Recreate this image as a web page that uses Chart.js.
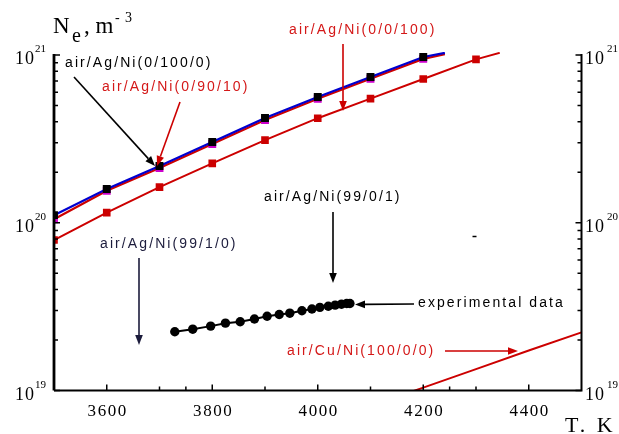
<!DOCTYPE html>
<html>
<head>
<meta charset="utf-8">
<script src="https://cdn.jsdelivr.net/npm/chart.js@4.4.0/dist/chart.umd.min.js"></script>
<style>
html, body { margin: 0; padding: 0; background: #fff; }
#wrap { width: 619px; height: 434px; }
</style>
</head>
<body>
<div id="wrap"><canvas id="myChart" width="619" height="434"></canvas></div>
<script>
// model curves, electron density (m^-3) vs temperature (K)
let modelT = [3500, 3600, 3700, 3800, 3900, 4000, 4100, 4200, 4241];
let ne_0_100_0 = [1.11e20, 1.59e20, 2.18e20, 3.03e20, 4.21e20, 5.62e20, 7.40e20, 9.73e20, 1.03e21];
let ne_0_90_10 = [1.05e20, 1.55e20, 2.12e20, 2.95e20, 4.10e20, 5.48e20, 7.21e20, 9.48e20, 1.01e21];

let modelT2 = [3500, 3600, 3700, 3800, 3900, 4000, 4100, 4200, 4300, 4345];
let ne_0_0_100 = [7.89e19, 1.15e20, 1.63e20, 2.26e20, 3.11e20, 4.20e20, 5.49e20, 7.19e20, 9.42e20, 1.03e21];

let cuT = [4100, 4200, 4300, 4400, 4500];
let ne_cu = [8.1e18, 1.04e19, 1.34e19, 1.73e19, 2.22e19];

// measured points
let expT = [3729, 3763, 3797, 3825, 3853, 3880, 3904, 3927, 3947, 3970, 3989, 4004, 4020, 4033, 4045, 4055, 4061];
let expNe = [2.24e19, 2.32e19, 2.42e19, 2.52e19, 2.57e19, 2.67e19, 2.77e19, 2.84e19, 2.89e19, 2.99e19, 3.06e19, 3.13e19, 3.18e19, 3.23e19, 3.27e19, 3.30e19, 3.30e19];

// axis ticks
let xMajor = [3600, 3800, 4000, 4200, 4400];
let xMinor = [3700, 3750, 3900, 4100, 4250, 4300];
let yMajor = [1e19, 1e20, 1e21];
let yMinor = [2e19, 3e19, 4e19, 5e19, 6e19, 7e19, 8e19, 9e19, 2e20, 3e20, 4e20, 5e20, 6e20, 7e20, 8e20, 9e20];

const RED = '#cc0000';
const TEXT_RED = '#d41818';

function pts(xs, ys) {
    return xs.map((x, i) => ({x: x, y: ys[i]}));
}
// markers on every point except the curve end at the top edge
function marks(xs, r) {
    return xs.map((x, i) => (x % 100 === 0 ? r : 0));
}

// label + arrow layer, pixel positions
let notes = [
    {text: 'air/Ag/Ni(0/100/0)', x: 65, y: 63, color: '#000'},
    {text: 'air/Ag/Ni(0/90/10)', x: 102, y: 87, color: TEXT_RED},
    {text: 'air/Ag/Ni(0/0/100)', x: 289, y: 30, color: TEXT_RED},
    {text: 'air/Ag/Ni(99/0/1)', x: 264, y: 197, color: '#000'},
    {text: 'air/Ag/Ni(99/1/0)', x: 100, y: 244, color: '#1c1c3c'},
    {text: 'experimental data', x: 418, y: 303, color: '#000'},
    {text: 'air/Cu/Ni(100/0/0)', x: 287, y: 351, color: TEXT_RED}
];
let arrows = [
    {x1: 74, y1: 77, x2: 155, y2: 166, color: '#000'},
    {x1: 180, y1: 102, x2: 157, y2: 166, color: RED},
    {x1: 343, y1: 44, x2: 343, y2: 111, color: RED},
    {x1: 333, y1: 212, x2: 333, y2: 283, color: '#000'},
    {x1: 139, y1: 258, x2: 139, y2: 345, color: '#1c1c3c'},
    {x1: 414, y1: 304, x2: 355, y2: 304.5, color: '#000'},
    {x1: 445, y1: 351, x2: 518, y2: 351, color: RED}
];

function arrow(ctx, a) {
    let ang = Math.atan2(a.y2 - a.y1, a.x2 - a.x1);
    let len = 10, half = 3.8;
    let bx = a.x2 - len * Math.cos(ang), by = a.y2 - len * Math.sin(ang);
    ctx.strokeStyle = a.color;
    ctx.fillStyle = a.color;
    ctx.lineWidth = 1.6;
    ctx.beginPath();
    ctx.moveTo(a.x1, a.y1);
    ctx.lineTo(bx, by);
    ctx.stroke();
    ctx.beginPath();
    ctx.moveTo(a.x2, a.y2);
    ctx.lineTo(bx + half * Math.sin(ang), by - half * Math.cos(ang));
    ctx.lineTo(bx - half * Math.sin(ang), by + half * Math.cos(ang));
    ctx.closePath();
    ctx.fill();
}

let frame = {
    id: 'frame',
    afterDraw(chart) {
        let ctx = chart.ctx;
        let xs = chart.scales.x, ys = chart.scales.y;
        let a = chart.chartArea;
        ctx.save();
        ctx.strokeStyle = '#000';
        ctx.fillStyle = '#000';

        // spines, no top border
        ctx.lineWidth = 2.8;
        ctx.beginPath();
        ctx.moveTo(a.left, a.top - 1);
        ctx.lineTo(a.left, a.bottom);
        ctx.stroke();
        ctx.lineWidth = 2;
        ctx.beginPath();
        ctx.moveTo(a.left, a.bottom);
        ctx.lineTo(a.right, a.bottom);
        ctx.moveTo(a.right, a.top - 1);
        ctx.lineTo(a.right, a.bottom + 1);
        ctx.stroke();

        // inward ticks
        ctx.lineWidth = 1.5;
        ctx.beginPath();
        xMajor.concat(xMinor).forEach(v => {
            let px = xs.getPixelForValue(v);
            let l = xMajor.includes(v) ? 6 : 4;
            ctx.moveTo(px, a.bottom);
            ctx.lineTo(px, a.bottom - l);
        });
        yMajor.concat(yMinor).forEach(v => {
            let py = ys.getPixelForValue(v);
            let l = yMajor.includes(v) ? 6 : 4;
            ctx.moveTo(a.left, py);
            ctx.lineTo(a.left + l, py);
            ctx.moveTo(a.right, py);
            ctx.lineTo(a.right - l, py);
        });
        ctx.stroke();

        // y tick labels 10^n on both sides
        ctx.textBaseline = 'alphabetic';
        ctx.textAlign = 'left';
        yMajor.forEach(v => {
            let py = ys.getPixelForValue(v);
            let e = String(Math.round(Math.log10(v)));
            ctx.font = '18px "Liberation Serif"';
            ctx.letterSpacing = '1px';
            ctx.fillText('10', 15, py + 9);
            ctx.fillText('10', 585, py + 9);
            ctx.font = '11px "Liberation Serif"';
            ctx.letterSpacing = '0px';
            ctx.fillText(e, 35, py - 3);
            ctx.fillText(e, 607, py - 3);
        });

        // x tick labels
        ctx.font = '17px "Liberation Serif"';
        ctx.letterSpacing = '1.6px';
        ctx.textAlign = 'center';
        xMajor.forEach(v => {
            ctx.fillText(String(v), xs.getPixelForValue(v) + 1, 416);
        });

        // axis titles
        ctx.textAlign = 'left';
        ctx.letterSpacing = '0px';
        ctx.font = '23px "Liberation Serif"';
        ctx.fillText('N', 53, 33);
        ctx.fillText(', m', 84, 33);
        ctx.font = '20px "Liberation Serif"';
        ctx.fillText('e', 72, 42);
        ctx.font = '14px "Liberation Serif"';
        ctx.fillText('-', 115, 22);
        ctx.fillText('3', 125, 22);
        ctx.font = '22px "Liberation Serif"';
        ctx.letterSpacing = '3px';
        ctx.fillText('T. K', 565, 432);

        // annotations
        ctx.font = '14px "Liberation Sans"';
        ctx.letterSpacing = '2.1px';
        ctx.textBaseline = 'middle';
        notes.forEach(n => {
            ctx.fillStyle = n.color;
            ctx.fillText(n.text, n.x, n.y);
        });
        ctx.letterSpacing = '0px';
        arrows.forEach(ar => arrow(ctx, ar));

        // small stray dash right of centre
        ctx.strokeStyle = '#000';
        ctx.lineWidth = 1.5;
        ctx.beginPath();
        ctx.moveTo(472.5, 236.5);
        ctx.lineTo(476.5, 236.5);
        ctx.stroke();
        ctx.restore();
    }
};

let topClip = {left: 0, top: 3, right: 0, bottom: 0};

new Chart(document.getElementById('myChart'), {
    type: 'line',
    data: {
        datasets: [
            {
                label: 'air/Ag/Ni(0/100/0)',
                data: pts(modelT, ne_0_100_0),
                borderColor: '#0000d0',
                borderWidth: 2.2,
                pointStyle: 'rect',
                pointRadius: marks(modelT, 5.6),
                pointBackgroundColor: '#000',
                pointBorderWidth: 0,
                clip: topClip
            },
            {
                label: 'air/Ag/Ni(0/90/10)',
                data: pts(modelT, ne_0_90_10),
                borderColor: RED,
                borderWidth: 2.2,
                pointStyle: 'rect',
                pointRadius: marks(modelT, 5.6),
                pointBackgroundColor: '#cc00cc',
                pointBorderWidth: 0,
                clip: topClip
            },
            {
                label: 'air/Ag/Ni(0/0/100)',
                data: pts(modelT2, ne_0_0_100),
                borderColor: RED,
                borderWidth: 2,
                pointStyle: 'rect',
                pointRadius: marks(modelT2, 5.4),
                pointBackgroundColor: RED,
                pointBorderWidth: 0,
                clip: topClip
            },
            {
                label: 'air/Cu/Ni(100/0/0)',
                data: pts(cuT, ne_cu),
                borderColor: RED,
                borderWidth: 2,
                pointRadius: 0
            },
            {
                label: 'experimental data',
                data: pts(expT, expNe),
                borderColor: '#000',
                borderWidth: 2,
                pointStyle: 'circle',
                pointRadius: 4.7,
                pointBackgroundColor: '#000',
                pointBorderWidth: 0
            }
        ]
    },
    options: {
        responsive: false,
        animation: false,
        events: [],
        layout: {padding: {left: 54, right: 37.5, top: 55, bottom: 43.5}},
        plugins: {legend: {display: false}, tooltip: {enabled: false}},
        scales: {
            x: {type: 'linear', min: 3500, max: 4500, display: false},
            y: {type: 'logarithmic', min: 1e19, max: 1e21, display: false}
        }
    },
    plugins: [frame]
});
</script>
</body>
</html>
